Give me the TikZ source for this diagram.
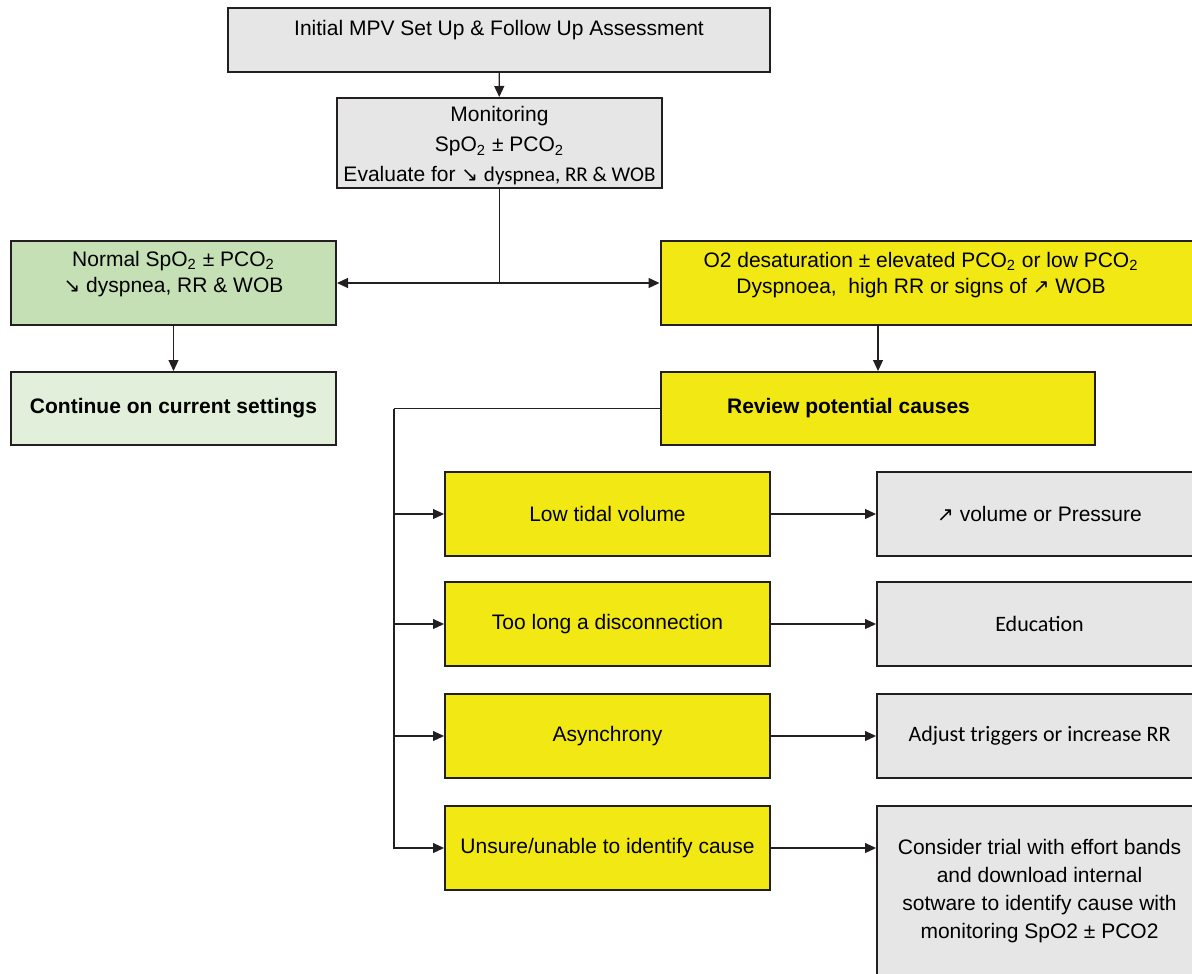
\documentclass[tikz,border=0pt]{standalone}
\usepackage{fontspec}
\setmainfont{Liberation Sans}
\newfontfamily\cbfont{Carlito}
\newfontfamily\arrowfont{DejaVu Sans}
\usetikzlibrary{arrows.meta}
\definecolor{boxline}{HTML}{231F20}
\definecolor{greyfill}{HTML}{E6E6E6}
\definecolor{yellowfill}{HTML}{F2E914}
\definecolor{greenfill}{HTML}{C5E0B4}
\definecolor{palegreen}{HTML}{E2EFDA}
\newcommand\arrdown{{\arrowfont\fontsize{10}{10}\selectfont ↘}}
\newcommand\arrup{{\arrowfont\fontsize{10}{10}\selectfont ↗}}

\begin{document}
\begin{tikzpicture}[x=0.5pt, y=-0.5pt,
  txt/.style = {align=center, font=\fontsize{10.5}{13}\selectfont},
  box/.style = {rectangle, draw=boxline, line width=1pt, minimum width=162.5pt, minimum height=42pt, inner sep=2pt, txt},
  grey/.style = {box, fill=greyfill},
  cause/.style = {box, fill=yellowfill},
  link/.style = {draw=boxline, line width=0.6pt},
  arr/.style = {link, -{Triangle[length=5.5pt, width=5pt]}}]

\useasboundingbox (0,0) rectangle (1192,973);
\clip (0,0) rectangle (1192,973);

\node[grey, minimum width=271pt, minimum height=32pt, label={[txt, yshift=5pt]center:Initial MPV Set Up \& Follow Up Assessment}] (init) at (499,40) {};
\node[grey, minimum height=45pt, label={[txt, font=\fontsize{10.5}{15}\selectfont, yshift=-1.5pt]center:{Monitoring\\SpO\textsubscript{2} ± PCO\textsubscript{2}\\Evaluate for \arrdown\ {\cbfont dyspnea, RR \& WOB}}}] (mon) at (499.5,143) {};

\node[box, fill=greenfill, label={[txt, yshift=4.5pt]center:{Normal SpO\textsubscript{2} ± PCO\textsubscript{2}\\\arrdown\ dyspnea, RR \& WOB}}] (normal) at (173.5,283) {};
\node[box, fill=palegreen, minimum height=36.5pt, font=\fontsize{10.5}{13}\selectfont\bfseries] (cont) at (173.5,408.5) {Continue on current settings};

\node[cause, minimum width=269.5pt, label={[txt, xshift=-4.5pt, yshift=4pt]center:{O2 desaturation ± elevated PCO\textsubscript{2} or low PCO\textsubscript{2}\\Dyspnoea,\ \ high RR or signs of \arrup\ WOB}}] (o2) at (930,283) {};
\node[cause, minimum width=217pt, minimum height=36.5pt, label={[txt, font=\fontsize{10.5}{13}\selectfont\bfseries, xshift=-14.75pt]center:Review potential causes}] (review) at (878,408.5) {};

\node[cause] (c1) at (607.5,514) {Low tidal volume};
\node[cause] (c2) at (607.5,624) {Too long a disconnection};
\node[cause] (c3) at (607.5,736) {Asynchrony};
\node[cause] (c4) at (607.5,848) {Unsure/unable to identify cause};

\node[grey] (r1) at (1039.5,514) {\arrup\ volume or Pressure};
\node[grey, font=\cbfont\fontsize{11}{13}\selectfont] (r2) at (1039.5,624) {Education};
\node[grey, font=\cbfont\fontsize{11}{13}\selectfont] (r3) at (1039.5,736) {Adjust triggers or increase RR};
\node[grey, minimum height=85pt, font=\fontsize{10.5}{14}\selectfont] (r4) at (1039.5,891) {Consider trial with effort bands\\and download internal\\sotware to identify cause with\\monitoring SpO2 ± PCO2};

\coordinate (split) at (mon.south |- normal.east);
\draw[arr] (init) -- (mon);
\draw[link] (mon.south) -- (split);
\draw[arr] (split) -- (normal.east);
\draw[arr] (split) -- (o2.west);
\draw[arr] (normal) -- (cont);
\draw[arr] (o2.south -| review.north) -- (review.north);

\draw[link] (review.west) -- ++(-266,0) coordinate (spine);
\foreach \i in {1,...,4} \draw[arr] (spine) |- (c\i.west);
\foreach \i in {1,...,4} \draw[arr] (c\i.east) -- (c\i.east -| r\i.west);

\end{tikzpicture}
\end{document}
